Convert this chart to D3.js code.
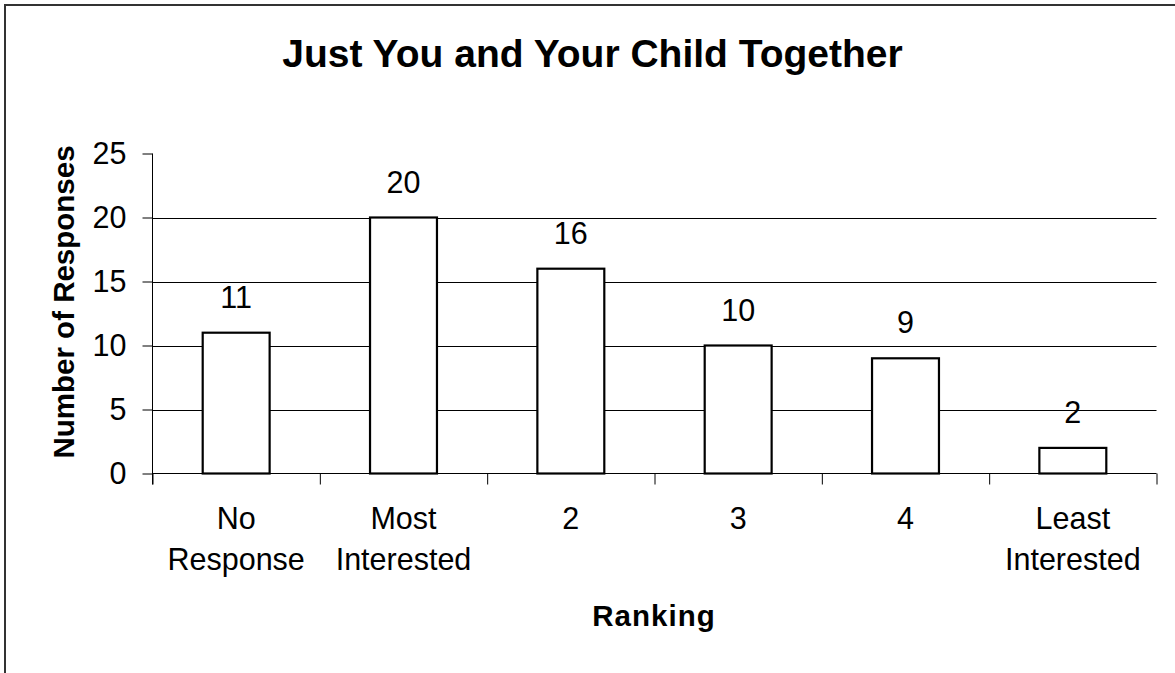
<!DOCTYPE html>
<html>
<head>
<meta charset="utf-8">
<script src="https://cdn.jsdelivr.net/npm/d3@7/dist/d3.min.js"></script>
<style>
  html, body { margin: 0; padding: 0; background: #fff; }
  svg { display: block; font-family: "Liberation Sans", Arial, sans-serif; }
</style>
</head>
<body>
<svg id="chart" width="1175" height="673"></svg>
<script>
// Survey responses by ranking
const categories = [["No", "Response"], ["Most", "Interested"], ["2"], ["3"], ["4"], ["Least", "Interested"]];
const responses = [11, 20, 16, 10, 9, 2];
const yTicks = [0, 5, 10, 15, 20, 25];
const gridValues = [5, 10, 15, 20];

const title = "Just You and Your Child Together";
const xTitle = "Ranking";
const yTitle = "Number of Responses";

const W = 1175, H = 673;
const plot = { left: 152.5, right: 1156.5, top: 153.5, bottom: 473.5 };
const labelSize = 30.5;

const svg = d3.select("#chart");

// outer chart frame (top and left edges visible)
svg.append("rect")
  .attr("x", 5).attr("y", 5)
  .attr("width", W + 20).attr("height", H + 20)
  .attr("fill", "#fff")
  .attr("stroke", "#333").attr("stroke-width", 2);

const x = d3.scaleBand()
  .domain(d3.range(categories.length))
  .range([plot.left, plot.right])
  .padding(0);

const xEdge = d3.scaleLinear()
  .domain([0, categories.length])
  .range([plot.left, plot.right]);

const y = d3.scaleLinear()
  .domain([0, 25])
  .range([plot.bottom, plot.top]);

// horizontal gridlines
svg.append("g")
  .selectAll("line")
  .data(gridValues)
  .join("line")
  .attr("x1", plot.left).attr("x2", plot.right)
  .attr("y1", d => Math.round(y(d)) + 0.5)
  .attr("y2", d => Math.round(y(d)) + 0.5)
  .attr("stroke", "#000").attr("stroke-width", 1);

// bars
const barW = x.bandwidth() * 0.4;
svg.append("g")
  .selectAll("rect")
  .data(responses)
  .join("rect")
  .attr("x", (d, i) => x(i) + (x.bandwidth() - barW) / 2)
  .attr("y", d => y(d))
  .attr("width", barW)
  .attr("height", d => y(0) - y(d))
  .attr("fill", "#fff")
  .attr("stroke", "#000")
  .attr("stroke-width", 2.2);

// value labels
svg.append("g")
  .selectAll("text")
  .data(responses)
  .join("text")
  .attr("x", (d, i) => x(i) + x.bandwidth() / 2)
  .attr("y", d => y(d) - 25)
  .attr("text-anchor", "middle")
  .attr("font-size", labelSize)
  .attr("fill", "#000")
  .text(d => d);

// y axis
const yAxis = svg.append("g")
  .attr("transform", `translate(${plot.left},0)`)
  .call(d3.axisLeft(y).tickValues(yTicks).tickSize(10).tickPadding(16));
yAxis.selectAll("text").attr("font-size", labelSize).attr("fill", "#000")
  .attr("font-family", "Liberation Sans, Arial, sans-serif");
yAxis.selectAll("line, path").attr("stroke", "#000");
yAxis.select(".domain").remove();
yAxis.append("line")
  .attr("x1", 0).attr("x2", 0)
  .attr("y1", plot.top).attr("y2", plot.bottom + 11)
  .attr("stroke", "#000");

// x axis with ticks between categories
const xAxis = svg.append("g")
  .attr("transform", `translate(0,${plot.bottom})`)
  .call(d3.axisBottom(xEdge).tickValues(d3.range(categories.length + 1)).tickSize(11).tickFormat(""));
xAxis.select(".domain").attr("d", `M${plot.left},0H${plot.right}`).attr("stroke", "#000");
xAxis.selectAll("line").attr("stroke", "#000");

// category labels
const catLabels = svg.append("g")
  .selectAll("text")
  .data(categories)
  .join("text")
  .attr("x", (d, i) => x(i) + x.bandwidth() / 2)
  .attr("y", 528.5)
  .attr("text-anchor", "middle")
  .attr("font-size", labelSize)
  .attr("fill", "#000");
catLabels.selectAll("tspan")
  .data(d => d)
  .join("tspan")
  .attr("x", function () { return d3.select(this.parentNode).attr("x"); })
  .attr("dy", (d, i) => i === 0 ? 0 : 41.5)
  .text(d => d);

// titles
svg.append("text")
  .attr("x", 592.5).attr("y", 66.5)
  .attr("text-anchor", "middle")
  .attr("font-size", 39).attr("font-weight", "bold")
  .text(title);

svg.append("text")
  .attr("x", 654).attr("y", 626)
  .attr("text-anchor", "middle")
  .attr("font-size", 29.5).attr("font-weight", "bold")
  .attr("letter-spacing", 1)
  .text(xTitle);

svg.append("text")
  .attr("transform", "translate(74,302) rotate(-90)")
  .attr("text-anchor", "middle")
  .attr("font-size", 29.5).attr("font-weight", "bold")
  .text(yTitle);
</script>
</body>
</html>
